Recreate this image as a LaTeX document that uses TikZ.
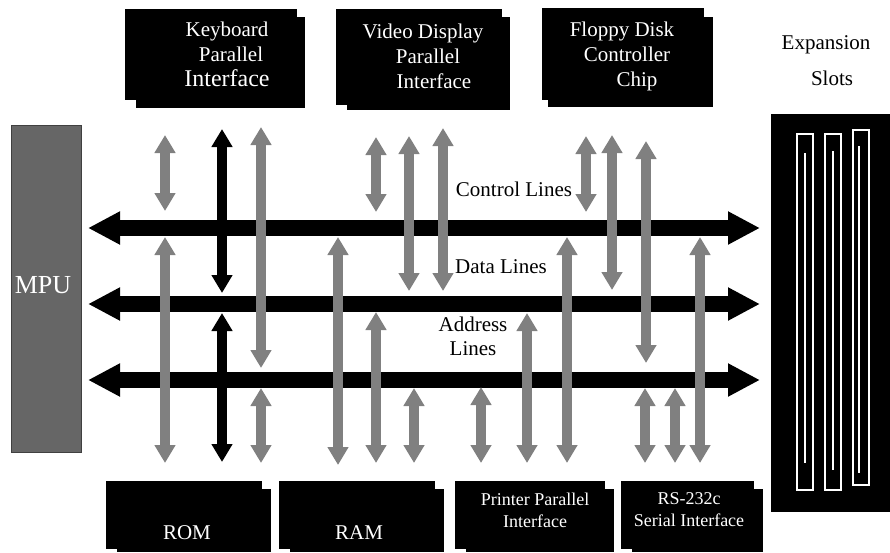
\documentclass[tikz,border=0pt]{standalone}
\usepackage{fontspec}
\setmainfont{Liberation Serif}
\usetikzlibrary{arrows.meta,fit}
\definecolor{arrgray}{HTML}{808080}
\definecolor{mpugray}{HTML}{666666}
\begin{document}
\begin{tikzpicture}[x=1pt,y=-1pt,
  bus/.style={line width=16pt, {Triangle[length=32pt,width=31pt]}-{Triangle[length=32pt,width=31pt]}},
  garrow/.style={draw=arrgray, line width=10pt, {Triangle[length=18pt,width=20pt]}-{Triangle[length=18pt,width=20pt]}},
  barrow/.style={draw=black, line width=10pt, {Triangle[length=18pt,width=20pt]}-{Triangle[length=18pt,width=20pt]}},
  blk/.style={fill=black, inner sep=0pt},
  lbl/.style={font=\fontsize{21}{25}\selectfont, align=center, inner sep=0pt},
  wlbl/.style={lbl, text=white},
  slot/.style={draw=white, line width=1.4pt},
]
\useasboundingbox (0,0) rectangle (890,552);

% ---- buses
\coordinate (cL) at (88,228);  \coordinate (cR) at (760,228);
\coordinate (dL) at (88,304);  \coordinate (dR) at (760,304);
\coordinate (aL) at (88,380);  \coordinate (aR) at (760,380);
\draw[bus] (cL) -- (cR);
\draw[bus] (dL) -- (dR);
\draw[bus] (aL) -- (aR);

% ---- MPU
\node[fit={(11,125)(81,452)}, inner sep=0pt, fill=mpugray, draw=black!75, line width=0.8pt] (mpu) {};
\node[lbl, text=white, font=\fontsize{26}{28}\selectfont] (mputxt) at (43,285) {MPU};

% ---- top boxes
\fill (136,17) rectangle (305,108);
\node[blk, fit={(125,9)(297,100)}] (kb) {};
\node[wlbl] (kbtxt) at (227,54) {Keyboard\\ \hspace*{8pt}Parallel\\{\fontsize{24}{25}\selectfont Interface}};

\fill (347,17) rectangle (510,110);
\node[blk, fit={(336,9)(502,105)}] (vd) {};
\node[wlbl] (vdtxt) at (423,56) {Video Display\\ \hspace*{10pt}Parallel\\ \hspace*{22pt}Interface};

\fill (548,17) rectangle (713,107);
\node[blk, fit={(542,8)(704,100)}] (fd) {};
\node[wlbl] (fdtxt) at (622,56) {Floppy Disk\\ \hspace*{10pt}Controller\\ \hspace*{30pt}Chip};

% ---- expansion slots
\node[lbl, font=\fontsize{21}{36}\selectfont] (exptxt) at (826,61) {Expansion\\ \hspace*{12pt}Slots};
\node[blk, fit={(771,114)(890,512)}] (exp) {};
\draw[slot] (797,134) rectangle (813,490);
\draw[slot] (825,134) rectangle (841,490);
\draw[slot] (853,130) rectangle (869,485);
\draw[slot] (805,153) -- (805,463);
\draw[slot] (833,151) -- (833,470);
\draw[slot] (859,146) -- (859,473);

% ---- bottom boxes
\fill (117,489) rectangle (271,552);
\node[blk, fit={(106,481)(262,549)}] (rom) {};
\node[wlbl] (romtxt) at (187,533) {ROM};

\fill (290,489) rectangle (444,552);
\node[blk, fit={(279,481)(435,549)}] (ram) {};
\node[wlbl] (ramtxt) at (359,533) {RAM};

\fill (466,489) rectangle (614,552);
\node[blk, fit={(455,481)(605,549)}] (prn) {};
\node[wlbl, font=\fontsize{18}{22}\selectfont] (prntxt) at (535,510) {Printer Parallel\\Interface};

\fill (632,489) rectangle (763,552);
\node[blk, fit={(621,481)(754,549)}] (rs) {};
\node[wlbl, font=\fontsize{18}{22}\selectfont] (rstxt) at (689,510) {RS-232c\\Serial Interface};

% ---- bus labels
\node[lbl] (ctl) at (514,189) {Control Lines};
\node[lbl] (dat) at (501,267) {Data Lines};
\node[lbl, font=\fontsize{21}{24}\selectfont] (adr) at (473,336) {Address\\Lines};

% ---- vertical arrows
\foreach \n/\x/\a/\b in {1/165/135/211, 2/165/237/463, 3/261/127/368, 4/261/388/463,
  5/338/237/465, 6/376/137/212, 7/376/312/463, 8/409/136/291, 9/443/128/291,
  10/414/388/463, 11/481/387/463, 12/527/313/463, 13/567/237/463, 14/586/136/212,
  15/612/135/290, 16/646/141/363, 17/645/388/463, 18/675/388/463, 19/700/237/463}{
  \coordinate (g\n a) at (\x,\a);
  \coordinate (g\n b) at (\x,\b);
  \draw[garrow] (g\n a) -- (g\n b);
}
\coordinate (k1a) at (222,129); \coordinate (k1b) at (222,293);
\coordinate (k2a) at (222,313); \coordinate (k2b) at (222,462);
\draw[barrow] (k1a) -- (k1b);
\draw[barrow] (k2a) -- (k2b);
\end{tikzpicture}
\end{document}
